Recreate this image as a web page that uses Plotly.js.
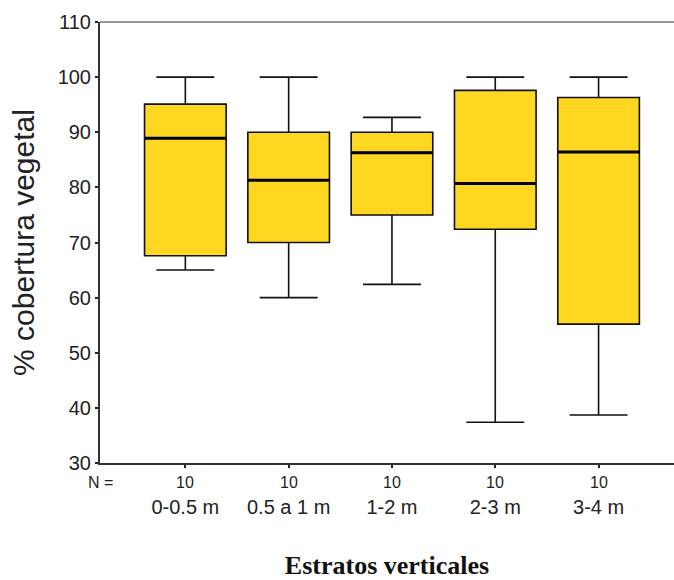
<!DOCTYPE html>
<html>
<head>
<meta charset="utf-8">
<script src="https://cdn.plot.ly/plotly-3.0.1.min.js"></script>
<style>html,body{margin:0;padding:0;background:#fff;}#chart{width:674px;height:580px;}</style>
</head>
<body>
<div id="chart"></div>
<script>
const categories = ["0-0.5 m", "0.5 a 1 m", "1-2 m", "2-3 m", "3-4 m"];
const lowerWhisker = [65, 60, 62.4, 37.4, 38.7];
const q1 = [67.6, 70.0, 75.0, 72.4, 55.2];
const medians = [88.9, 81.3, 86.3, 80.7, 86.4];
const q3 = [95.1, 90.0, 90.0, 97.6, 96.3];
const upperWhisker = [100, 100, 92.7, 100, 100];
const nValues = [10, 10, 10, 10, 10];
const yTicks = [30, 40, 50, 60, 70, 80, 90, 100, 110];

const boxTrace = {
  type: "box",
  x: categories,
  q1: q1,
  median: medians,
  q3: q3,
  lowerfence: lowerWhisker,
  upperfence: upperWhisker,
  boxpoints: false,
  fillcolor: "#FFD620",
  line: {color: "#111111", width: 1.6},
  whiskerwidth: 0.71,
  hoverinfo: "skip",
  showlegend: false
};

// thick median line: a degenerate box drawn at the median value
const medianTrace = {
  type: "box",
  x: categories,
  q1: medians,
  median: medians,
  q3: medians,
  lowerfence: medians,
  upperfence: medians,
  boxpoints: false,
  fillcolor: "rgba(0,0,0,0)",
  line: {color: "#000000", width: 3},
  whiskerwidth: 0,
  hoverinfo: "skip",
  showlegend: false
};

const smallFont = {family: "Liberation Sans, Arial, sans-serif", size: 16, color: "#222"};
const annotations = nValues.map((n, i) => ({
  x: categories[i], y: 0, xref: "x", yref: "paper", yanchor: "middle", xanchor: "center", yshift: -19,
  text: String(n), showarrow: false, font: smallFont
}));
annotations.push({
  x: 0, y: 0, xref: "paper", yref: "paper", yanchor: "middle", xanchor: "center", yshift: -19,
  text: "N =", showarrow: false, font: smallFont
});

const layout = {
  width: 674, height: 580,
  margin: {l: 100, r: 0, t: 22, b: 117},
  paper_bgcolor: "#fff", plot_bgcolor: "#fff",
  boxmode: "overlay",
  boxgap: 0.21, boxgroupgap: 0,
  xaxis: {
    type: "category",
    range: [-0.826, 4.73],
    showgrid: false, zeroline: false,
    showline: true, linecolor: "#333", linewidth: 2,
    ticks: "outside", ticklen: 3, tickwidth: 2, tickcolor: "#222",
    ticklabelstandoff: 22,
    tickfont: {family: "Liberation Sans, Arial, sans-serif", size: 20, color: "#222"},
    title: {text: "Estratos verticales", standoff: 53,
      font: {family: "Liberation Serif, Times New Roman, serif", size: 26, color: "#111", weight: "bold"}}
  },
  yaxis: {
    range: [30, 110],
    tickvals: yTicks,
    showgrid: false, zeroline: false,
    showline: true, linecolor: "#333", linewidth: 2,
    ticks: "outside", ticklen: 3, tickwidth: 2, tickcolor: "#222",
    tickfont: {family: "Liberation Sans, Arial, sans-serif", size: 20, color: "#222"},
    title: {text: "% cobertura vegetal", standoff: 14,
      font: {family: "Liberation Sans, Arial, sans-serif", size: 30, color: "#222"}}
  },
  shapes: [{type: "line", xref: "paper", yref: "paper", x0: 0, x1: 1, y0: 1, y1: 1,
    line: {color: "#777", width: 1.5}}],
  annotations: annotations
};

Plotly.newPlot("chart", [boxTrace, medianTrace], layout, {displayModeBar: false, staticPlot: true});
</script>
</body>
</html>
